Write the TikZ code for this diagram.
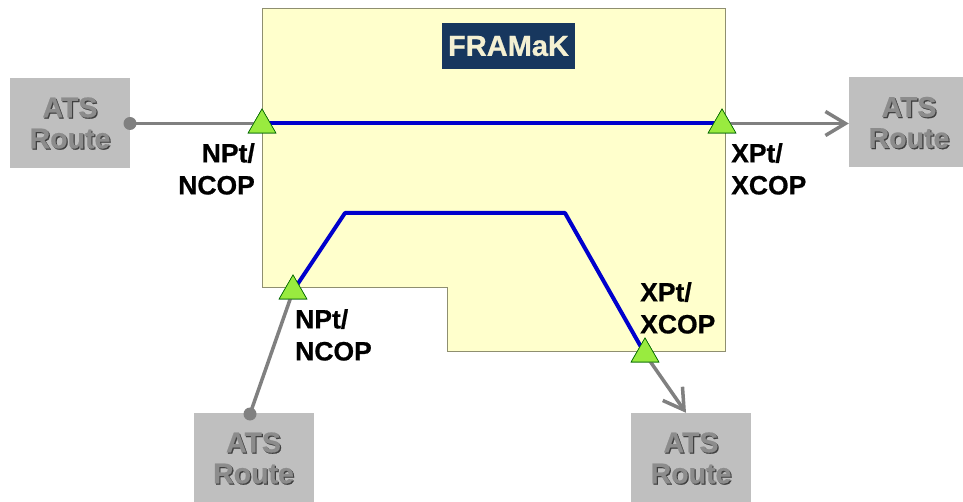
\documentclass[tikz,border=0pt]{standalone}
\usepackage{fontspec}
\setmainfont{Liberation Sans}
\newfontfamily\heavyfont{Liberation Sans Bold}[FakeBold=0.7]
\usetikzlibrary{arrows.meta,shapes.geometric}
\definecolor{yel}{HTML}{FFFFCC}
\definecolor{yelborder}{HTML}{8F8F70}
\definecolor{navy}{HTML}{17375E}
\definecolor{cream}{HTML}{F4F0D2}
\definecolor{boxgray}{HTML}{BFBFBF}
\definecolor{linegray}{HTML}{808080}
\definecolor{routeblue}{HTML}{0000CC}
\definecolor{trigreen}{HTML}{99EB3F}
\definecolor{atsfg}{HTML}{8C8C8C}
\definecolor{atsbg}{HTML}{404040}
\tikzset{
  atsbox/.style={fill=boxgray, minimum width=120pt, minimum height=90pt, inner sep=0pt},
  atsshadow/.style={text=atsbg, align=center, inner sep=0pt, font=\heavyfont\fontsize{28.5}{31}\selectfont},
  atstext/.style={text=atsfg, align=center, inner sep=0pt, font=\heavyfont\fontsize{28.5}{31}\selectfont},
  tri/.style={regular polygon, regular polygon sides=3, minimum size=32pt, inner sep=0pt, fill=trigreen, draw=black!60!green, line width=0.6pt},
  blueline/.style={draw=routeblue, line width=4pt, line join=round},
  grayline/.style={draw=linegray, line width=3.5pt},
  barb/.style={-{Straight Barb[length=20pt,width=24pt]}},
  lbl/.style={inner sep=0pt, font=\heavyfont\fontsize{26.5}{32}\selectfont},
}
\begin{document}
\begin{tikzpicture}[x=1pt,y=-1pt]
\useasboundingbox (0,0) rectangle (963,502);
\fill[white] (0,0) rectangle (963,502);

% FRAMaK area
\draw[fill=yel, draw=yelborder, line width=1pt]
  (262,9) -- (725,9) -- (725,351) -- (447,351) -- (447,288) -- (262,288) -- cycle;
\node[fill=navy, text=cream, minimum width=133pt, minimum height=46pt, inner sep=0pt,
      font=\heavyfont\fontsize{29}{33}\selectfont] (fr) at (508.5,46) {FRAMaK};

% ATS Route boxes
\foreach \nm/\x/\y in {L/70/123, R/909/122.5, BL/253.5/458, BR/691/458}{
  \node[atsbox] (\nm) at (\x,\y) {};
  \node[atsshadow] (\nm s) at ([shift={(1.2,1.2)}]\nm.center) {ATS\\Route};
  \node[atstext] (\nm t) at (\nm.center) {ATS\\Route};
}

% entry / exit points
\node[tri] (n1) at (262,125) {};
\node[tri] (x1) at (722,125) {};
\node[tri] (n2) at (293,291) {};
\node[tri] (x2) at (645,354) {};

\coordinate (b1) at (345,213);
\coordinate (b2) at (565,213);
\coordinate (c1) at (130,123.5);
\coordinate (c2) at (250,414);

% connectors (drawn beneath the triangles)
\draw[blueline] (n1.center |- c1) -- (x1.center |- c1);
\draw[blueline] (n2.center) -- (b1) -- (b2) -- (x2.center);
\draw[grayline] (c1) -- (n1.center |- c1);
\fill[linegray] (c1) circle (6.5pt);
\draw[grayline, barb] (x1.center |- c1) -- (R.west |- c1);
\draw[grayline] (c2) -- (n2.center);
\fill[linegray] (c2) circle (6.5pt);
\draw[grayline, barb] (x2.center) -- ([xshift=-5pt]BR.north);

% redraw triangles on top
\node[tri] (n1b) at (n1) {};
\node[tri] (x1b) at (x1) {};
\node[tri] (n2b) at (n2) {};
\node[tri] (x2b) at (x2) {};

% labels
\node[lbl, anchor=north east, align=right] (t1) at (255,143) {NPt/\\NCOP};
\node[lbl, anchor=north west, align=left] (t2) at (731,143) {XPt/\\XCOP};
\node[lbl, anchor=north west, align=left] (t3) at (295,309) {NPt/\\NCOP};
\node[lbl, anchor=north west, align=left] (t4) at (640,282) {XPt/\\XCOP};
\end{tikzpicture}
\end{document}
